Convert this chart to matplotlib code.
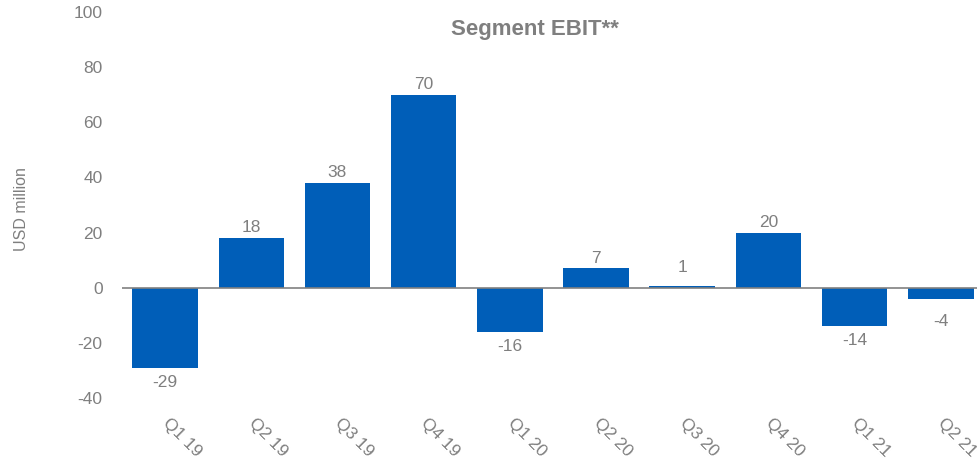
import matplotlib
matplotlib.use('Agg')
import matplotlib.pyplot as plt
import numpy as np

plt.rcParams['font.family'] = ['Liberation Sans', 'DejaVu Sans']
plt.rcParams['axes.unicode_minus'] = False

# Segment EBIT by quarter (USD million)
quarters = ['Q1 19', 'Q2 19', 'Q3 19', 'Q4 19', 'Q1 20',
            'Q2 20', 'Q3 20', 'Q4 20', 'Q1 21', 'Q2 21']
ebit = [-29, 18, 38, 70, -16, 7, 0.5, 20, -14, -4]
ebit_labels = ['-29', '18', '38', '70', '-16', '7', '1', '20', '-14', '-4']

BAR_COLOR = '#005EB8'
TEXT_GRAY = '#7f7f7f'
FS = 12.5

fig = plt.figure(figsize=(9.78, 4.58), dpi=100)
ax = fig.add_axes([122 / 978, 60 / 458, 855 / 978, 386 / 458])

x = np.arange(len(quarters))
bars = ax.bar(x, ebit, width=0.76, color=BAR_COLOR, zorder=3)

# labels outside the bar end (small bars get a bit more room, like the original)
for bar, val, lab in zip(bars, ebit, ebit_labels):
    cx = bar.get_x() + bar.get_width() / 2
    extra = 6 if abs(val) < 5 else 0
    if val >= 0:
        ax.annotate(lab, xy=(cx, val), xytext=(0, 2 + extra), textcoords='offset points',
                    ha='center', va='bottom', fontsize=FS, color=TEXT_GRAY)
    else:
        ax.annotate(lab, xy=(cx, val), xytext=(0, -5 - extra), textcoords='offset points',
                    ha='center', va='top', fontsize=FS, color=TEXT_GRAY)

ax.axhline(0, color='#808080', linewidth=1.2, zorder=4)

ax.set_ylim(-40, 100)
ax.set_yticks(np.arange(-40, 101, 20))
ax.set_xlim(-0.5, 9.42)
ax.set_xticks(x)
ax.set_xticklabels(quarters, rotation=-45, ha='left', va='center',
                   rotation_mode='anchor')
ax.tick_params(axis='both', length=0, labelsize=FS, colors=TEXT_GRAY)
ax.tick_params(axis='y', pad=14)
ax.tick_params(axis='x', pad=16)
for s in ax.spines.values():
    s.set_visible(False)

fig.text(22 / 978, 1 - 209 / 458, 'USD million', rotation=90, ha='center',
         va='center', fontsize=11.5, color=TEXT_GRAY)
fig.text(535 / 978, 1 - 29 / 458, 'Segment EBIT**', ha='center', va='center',
         fontsize=16, fontweight='bold', color=TEXT_GRAY)

plt.savefig('out.png', dpi=100)
plt.close()
